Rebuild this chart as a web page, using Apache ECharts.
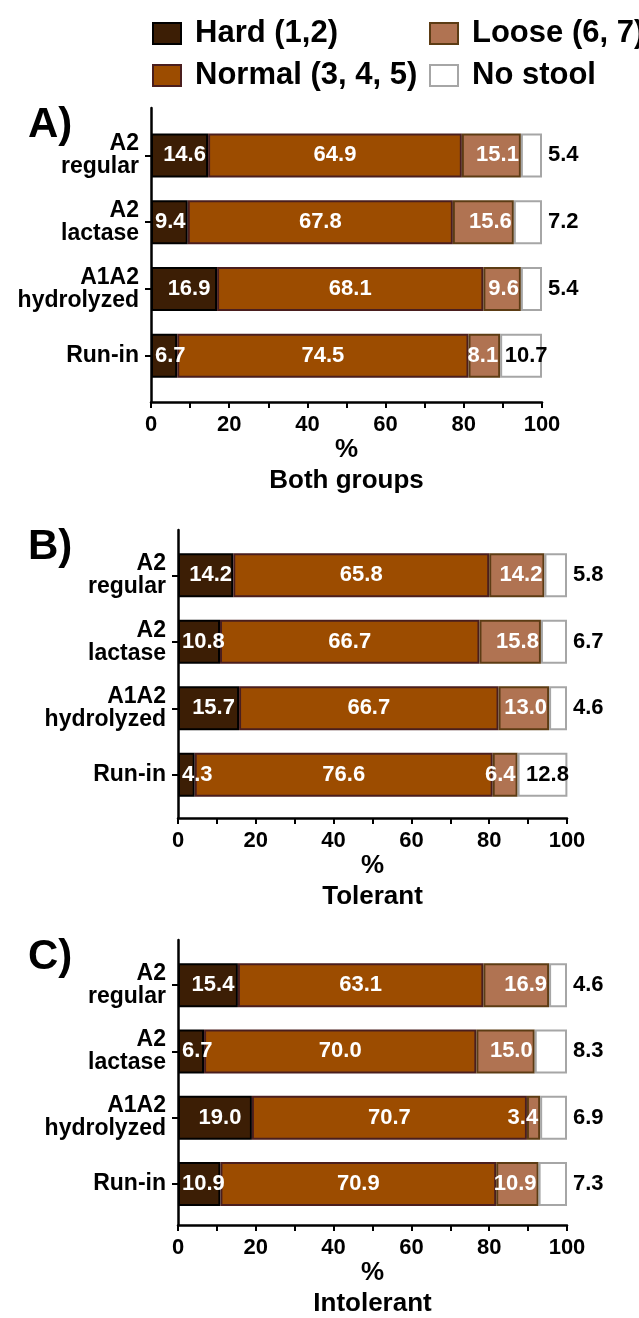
<!DOCTYPE html>
<html>
<head>
<meta charset="utf-8">
<script src="https://cdn.jsdelivr.net/npm/echarts@6/dist/echarts.min.js"></script>
<style>
html,body{margin:0;padding:0;background:#fff;}
#chart{width:639px;height:1318px;}
</style>
</head>
<body>
<div id="chart"></div>
<script>
// ---- data ----
const categories = ['A2\nregular', 'A2\nlactase', 'A1A2\nhydrolyzed', 'Run-in'];
const seriesNames = ['Hard (1,2)', 'Normal (3, 4, 5)', 'Loose (6, 7)', 'No stool'];
const panelLetters = ['A)', 'B)', 'C)'];
const panelTitles = ['Both groups', 'Tolerant', 'Intolerant'];
const xMin = 0, xMax = 100, xStep = 20;

const bothHard   = [14.6, 9.4, 16.9, 6.7];
const bothNormal = [64.9, 67.8, 68.1, 74.5];
const bothLoose  = [15.1, 15.6, 9.6, 8.1];
const bothNone   = [5.4, 7.2, 5.4, 10.7];

const tolHard   = [14.2, 10.8, 15.7, 4.3];
const tolNormal = [65.8, 66.7, 66.7, 76.6];
const tolLoose  = [14.2, 15.8, 13.0, 6.4];
const tolNone   = [5.8, 6.7, 4.6, 12.8];

const intHard   = [15.4, 6.7, 19.0, 10.9];
const intNormal = [63.1, 70.0, 70.7, 70.9];
const intLoose  = [16.9, 15.0, 3.4, 10.9];
const intNone   = [4.6, 8.3, 6.9, 7.3];

// ---- styles / layout ----
const FONT = '"Liberation Sans", Arial, sans-serif';
const fills   = ['#3c1e05', '#9c4c00', '#b07352', '#ffffff'];
const borders = ['#000000', '#4a1e1e', '#5c3c14', '#a6a6a6'];
const panels = [
  { data: [bothHard, bothNormal, bothLoose, bothNone], outer: {left:151, right:97, top:108, height:294}, bars: {left:151, right:97, top:122, height:267}, letterTop: 104 },
  { data: [tolHard, tolNormal, tolLoose, tolNone],     outer: {left:178, right:72, top:530, height:288}, bars: {left:178, right:72, top:542, height:266}, letterTop: 526 },
  { data: [intHard, intNormal, intLoose, intNone],     outer: {left:178, right:72, top:940, height:288}, bars: {left:178, right:72, top:952, height:265}, letterTop: 936 }
];

function labelFor(kind, v) {
  const base = { show: true, fontFamily: FONT, fontWeight: 'bold', fontSize: 22, color: '#fff',
                 formatter: p => p.value.toFixed(1) };
  if (kind === 0) {
    return Object.assign(base, v < 12 ? { position: 'insideLeft', distance: 4 } : { position: 'inside', offset: [5, 0] });
  } else if (kind === 1) {
    return Object.assign(base, { position: 'inside' });
  } else if (kind === 2) {
    return Object.assign(base, { position: 'insideRight', distance: 2 });
  }
  return Object.assign(base, { color: '#000' },
    v >= 10 ? { position: 'inside', offset: [5, 0] } : { position: 'right', distance: 6 });
}

const grid = [], xAxis = [], yAxis = [], series = [], graphic = [];
panels.forEach((p, i) => {
  grid.push(p.outer); grid.push(p.bars);
  const og = 2 * i, bg = 2 * i + 1;
  // outer axes (frame, ticks, labels)
  xAxis.push({
    gridIndex: og, type: 'value', min: xMin, max: xMax, interval: xStep,
    axisLine: { show: true, lineStyle: { color: '#000', width: 2.5 } },
    axisTick: { show: true, length: 6, lineStyle: { color: '#000', width: 2 } },
    minorTick: { show: true, splitNumber: 2, length: 6, lineStyle: { color: '#000', width: 2 } },
    splitLine: { show: false },
    axisLabel: { fontFamily: FONT, fontWeight: 'bold', fontSize: 22, color: '#000', margin: 12 },
    name: '{p|%}\n{n|' + panelTitles[i] + '}',
    nameLocation: 'middle', nameGap: 32,
    nameTextStyle: { rich: {
      p: { fontFamily: FONT, fontWeight: 'bold', fontSize: 26, color: '#000', lineHeight: 31 },
      n: { fontFamily: FONT, fontWeight: 'bold', fontSize: 26, color: '#000', lineHeight: 31 } } }
  });
  yAxis.push({
    gridIndex: og, type: 'value', min: 0, max: 1,
    axisLine: { show: true, onZero: false, lineStyle: { color: '#000', width: 2.5 } },
    axisTick: { show: false }, axisLabel: { show: false }, splitLine: { show: false }
  });
  // bar axes
  xAxis.push({ gridIndex: bg, type: 'value', min: xMin, max: xMax, show: false });
  yAxis.push({
    gridIndex: bg, type: 'category', inverse: true, data: categories,
    axisLine: { show: false },
    axisTick: { show: true, alignWithLabel: true, length: 6, lineStyle: { color: '#000', width: 2 } },
    axisLabel: { fontFamily: FONT, fontWeight: 'bold', fontSize: 23, color: '#000', margin: 12, lineHeight: 23, align: 'right' }
  });
  p.data.forEach((vals, k) => {
    series.push({
      type: 'bar', name: seriesNames[k], stack: 'panel' + i,
      xAxisIndex: 2 * i + 1, yAxisIndex: 2 * i + 1,
      barWidth: 44,
      itemStyle: { color: fills[k], borderColor: borders[k], borderWidth: 2 },
      emphasis: { disabled: true },
      data: vals.map(v => ({ value: v, label: labelFor(k, v) }))
    });
  });
  graphic.push({ type: 'text', left: 28, top: p.letterTop,
    style: { text: panelLetters[i], font: 'bold 42px ' + FONT, fill: '#000' } });
});

const legendCommon = {
  orient: 'vertical', itemWidth: 28, itemHeight: 21, itemGap: 11, icon: 'rect',
  textStyle: { fontFamily: FONT, fontWeight: 'bold', fontSize: 31, color: '#000', padding: [0, 0, 0, 9] },
  selectedMode: false
};
const option = {
  animation: false,
  backgroundColor: '#fff',
  legend: [
    Object.assign({ left: 147, top: 13, data: [seriesNames[0], seriesNames[1]] }, legendCommon),
    Object.assign({ left: 424, top: 13, data: [seriesNames[2], seriesNames[3]] }, legendCommon)
  ],
  grid, xAxis, yAxis, series, graphic
};
const chart = echarts.init(document.getElementById('chart'), null, { renderer: 'canvas' });
chart.setOption(option);
</script>
</body>
</html>
